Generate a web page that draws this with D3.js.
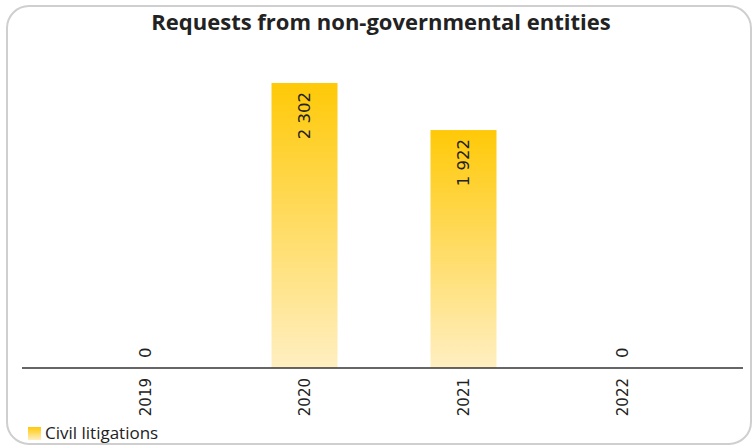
<!DOCTYPE html>
<html>
<head>
<meta charset="utf-8">
<script src="https://cdn.jsdelivr.net/npm/d3@7"></script>
<style>
  html, body { margin: 0; padding: 0; background: #fff; }
  svg { display: block; }
</style>
</head>
<body>
<svg id="chart" width="753" height="445"></svg>
<script>
// Chart data
const title = "Requests from non-governmental entities";
const years = ["2019", "2020", "2021", "2022"];
const civilLitigations = [0, 2302, 1922, 0];
const seriesName = "Civil litigations";

const W = 753, H = 445;
const svg = d3.select("#chart");
const fmt = v => d3.format(",")(v).replace(/,/g, " ");

// Vertical gradient used for bars and the legend swatch
const defs = svg.append("defs");
const grad = defs.append("linearGradient")
  .attr("id", "barGrad").attr("x1", 0).attr("y1", 0).attr("x2", 0).attr("y2", 1);
grad.append("stop").attr("offset", "0%").attr("stop-color", "#FFC907");
grad.append("stop").attr("offset", "100%").attr("stop-color", "#FFEFC2");

// Rounded frame
svg.append("rect")
  .attr("x", 7).attr("y", 6).attr("width", 744).attr("height", 438)
  .attr("rx", 22).attr("ry", 22)
  .attr("fill", "#fff").attr("stroke", "#cfcfcf").attr("stroke-width", 2);

// Title
svg.append("text")
  .attr("x", 381).attr("y", 30)
  .attr("text-anchor", "middle")
  .attr("font-family", "'Open Sans', Lato, sans-serif")
  .attr("font-weight", 700)
  .attr("font-size", 22)
  .attr("fill", "#222")
  .text(title);

// Scales
const x = d3.scaleBand().domain(years).range([66, 702])
  .paddingInner(0.585).paddingOuter(0.2925);
const y = d3.scaleLinear().domain([0, 2500]).range([368, 58.5]);

const data = years.map((yr, i) => ({ year: yr, value: civilLitigations[i] }));

// Bars
svg.append("g").selectAll("rect").data(data).join("rect")
  .attr("x", d => x(d.year))
  .attr("y", d => y(d.value))
  .attr("width", x.bandwidth())
  .attr("height", d => y(0) - y(d.value))
  .attr("fill", "url(#barGrad)");

// Category axis
const xAxis = svg.append("g")
  .attr("transform", `translate(0,${y(0)})`)
  .call(d3.axisBottom(x).tickSize(0).tickPadding(0));
xAxis.select(".domain").remove();
xAxis.selectAll(".tick text")
  .attr("transform", "rotate(-90)")
  .attr("text-anchor", "end")
  .attr("x", -10).attr("y", 0).attr("dy", "0.35em")
  .attr("font-family", "DejaVu Sans, Verdana, sans-serif")
  .attr("font-size", 15)
  .attr("fill", "#222");

// Baseline
svg.append("line")
  .attr("x1", 22).attr("x2", 743)
  .attr("y1", y(0)).attr("y2", y(0))
  .attr("stroke", "#333").attr("stroke-width", 1.5);

// Value labels: inside the bar top, or above the baseline for zero values
svg.append("g").selectAll("text").data(data).join("text")
  .attr("transform", d => {
    const cx = x(d.year) + x.bandwidth() / 2;
    const yy = d.value > 0 ? y(d.value) + 9 : y(0) - 10;
    return `translate(${cx},${yy}) rotate(-90)`;
  })
  .attr("text-anchor", d => d.value > 0 ? "end" : "start")
  .attr("dy", "0.35em")
  .attr("font-family", "DejaVu Sans, Verdana, sans-serif")
  .attr("font-size", 16.5)
  .attr("fill", "#222")
  .text(d => fmt(d.value));

// Legend
const legend = svg.append("g").attr("transform", "translate(28,427)");
legend.append("rect").attr("width", 13).attr("height", 13).attr("fill", "url(#barGrad)");
legend.append("text")
  .attr("x", 17).attr("y", 12)
  .attr("font-family", "'Open Sans', Lato, sans-serif")
  .attr("font-size", 17)
  .attr("fill", "#222")
  .text(seriesName);
</script>
</body>
</html>
